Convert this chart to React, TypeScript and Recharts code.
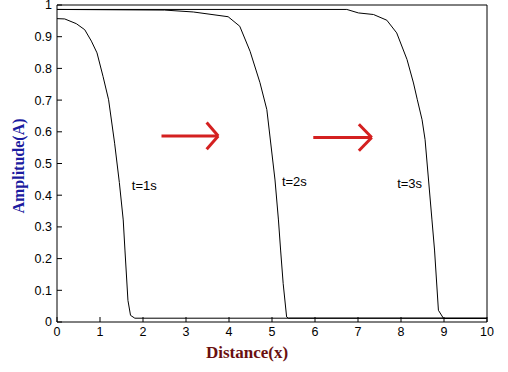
import React from 'react';
import {
  LineChart,
  Line,
  XAxis,
  YAxis,
  ReferenceLine,
  ReferenceDot,
} from 'recharts';

// wave front at t = 1s, 2s, 3s
const front1 = [
  { x: 0, y: 0.957 }, { x: 0.18, y: 0.956 }, { x: 0.45, y: 0.941 },
  { x: 0.645, y: 0.922 }, { x: 0.8, y: 0.886 }, { x: 0.93, y: 0.849 },
  { x: 1.07, y: 0.775 }, { x: 1.2, y: 0.701 }, { x: 1.34, y: 0.564 },
  { x: 1.45, y: 0.44 }, { x: 1.54, y: 0.322 }, { x: 1.58, y: 0.227 },
  { x: 1.65, y: 0.068 }, { x: 1.71, y: 0.021 }, { x: 1.81, y: 0.012 },
  { x: 10, y: 0.012 },
];

const front2 = [
  { x: 0, y: 0.986 }, { x: 2.5, y: 0.984 }, { x: 3.17, y: 0.978 },
  { x: 3.98, y: 0.963 }, { x: 4.25, y: 0.933 }, { x: 4.49, y: 0.854 },
  { x: 4.72, y: 0.755 }, { x: 4.88, y: 0.67 }, { x: 5.07, y: 0.448 },
  { x: 5.15, y: 0.322 }, { x: 5.2, y: 0.227 }, { x: 5.26, y: 0.121 },
  { x: 5.34, y: 0.016 }, { x: 5.38, y: 0.012 }, { x: 10, y: 0.012 },
];

const front3 = [
  { x: 0, y: 0.986 }, { x: 6.74, y: 0.986 }, { x: 7.01, y: 0.975 },
  { x: 7.36, y: 0.97 }, { x: 7.67, y: 0.952 }, { x: 7.9, y: 0.912 },
  { x: 8.14, y: 0.828 }, { x: 8.29, y: 0.754 }, { x: 8.38, y: 0.701 },
  { x: 8.49, y: 0.638 }, { x: 8.56, y: 0.575 }, { x: 8.72, y: 0.322 },
  { x: 8.78, y: 0.227 }, { x: 8.87, y: 0.037 }, { x: 8.99, y: 0.011 },
  { x: 10, y: 0.011 },
];

const xTicks = [0, 1, 2, 3, 4, 5, 6, 7, 8, 9, 10];
const yTicks = [0, 0.1, 0.2, 0.3, 0.4, 0.5, 0.6, 0.7, 0.8, 0.9, 1];

const timeLabels = [
  { text: 't=1s', x: 2.03, y: 0.432 },
  { text: 't=2s', x: 5.52, y: 0.444 },
  { text: 't=3s', x: 8.2, y: 0.438 },
];

// red arrows: [x1, y1, x2, y2]
const arrowStrokes = [
  [2.43, 0.587, 3.75, 0.587],
  [3.48, 0.629, 3.75, 0.587],
  [3.48, 0.545, 3.75, 0.587],
  [5.96, 0.582, 7.32, 0.582],
  [7.02, 0.624, 7.32, 0.582],
  [7.02, 0.54, 7.32, 0.582],
];

const fronts = [front1, front2, front3];

const font = 'Liberation Sans';
const TICK = 5;

// matlab style ticks: pointing into the plot
const BottomTick = (p: any) => (
  <g>
    <line x1={p.x} y1={p.y} x2={p.x} y2={p.y - TICK} stroke="#000" />
    <text x={p.x} y={p.y + 5} dy="0.71em" textAnchor="middle" fill="#000" fontSize={12.5} fontFamily={font}>
      {p.payload.value}
    </text>
  </g>
);

const LeftTick = (p: any) => (
  <g>
    <line x1={p.x} y1={p.y} x2={p.x + TICK} y2={p.y} stroke="#000" />
    <text x={p.x - 5} y={p.y} dy="0.355em" textAnchor="end" fill="#000" fontSize={12.5} fontFamily={font}>
      {p.payload.value}
    </text>
  </g>
);

const TopTick = (p: any) => (
  <line x1={p.x} y1={p.y} x2={p.x} y2={p.y + TICK} stroke="#000" />
);

const RightTick = (p: any) => (
  <line x1={p.x} y1={p.y} x2={p.x - TICK} y2={p.y} stroke="#000" />
);

export default function App() {
  return (
    <div style={{ position: 'absolute', left: 0, top: 0, background: '#fff' }}>
      <LineChart
        width={508}
        height={372}
        margin={{ top: 4, right: 20, bottom: 10, left: 7 }}
      >
        <XAxis
          dataKey="x"
          type="number"
          domain={[0, 10]}
          ticks={xTicks}
          interval={0}
          height={40}
          stroke="#000"
          tickLine={false}
          tickSize={0}
          tickMargin={0}
          tick={BottomTick}
          label={{
            content: () => (
              <text
                x={247}
                y={358}
                textAnchor="middle"
                fill="#6b1010"
                fontSize={17}
                fontWeight="bold"
                fontFamily="Liberation Serif"
              >
                Distance(x)
              </text>
            ),
          }}
        />
        <XAxis
          xAxisId="top"
          orientation="top"
          dataKey="x"
          type="number"
          domain={[0, 10]}
          ticks={xTicks}
          interval={0}
          height={1}
          stroke="#000"
          tickLine={false}
          tickSize={0}
          tickMargin={0}
          tick={TopTick}
        />
        <YAxis
          type="number"
          domain={[0, 1]}
          ticks={yTicks}
          interval={0}
          width={50}
          stroke="#000"
          tickLine={false}
          tickSize={0}
          tickMargin={0}
          tick={LeftTick}
          label={{
            content: () => (
              <text
                x={24}
                y={166}
                transform="rotate(-90 24 166)"
                textAnchor="middle"
                fill="#1c1ca0"
                fontSize={16}
                fontWeight="bold"
                fontFamily="Liberation Serif"
              >
                Amplitude(A)
              </text>
            ),
          }}
        />
        <YAxis
          yAxisId="right"
          orientation="right"
          type="number"
          domain={[0, 1]}
          ticks={yTicks}
          interval={0}
          width={1}
          stroke="#000"
          tickLine={false}
          tickSize={0}
          tickMargin={0}
          tick={RightTick}
        />
        {fronts.map((d, i) => (
          <Line
            key={i}
            data={d}
            dataKey="y"
            type="linear"
            stroke="#000"
            strokeWidth={1}
            dot={false}
            isAnimationActive={false}
          />
        ))}
        {arrowStrokes.map((s, i) => (
          <ReferenceLine
            key={'a' + i}
            segment={[
              { x: s[0], y: s[1] },
              { x: s[2], y: s[3] },
            ]}
            stroke="#d42020"
            strokeWidth={3}
          />
        ))}
        {timeLabels.map((t) => (
          <ReferenceDot
            key={t.text}
            x={t.x}
            y={t.y}
            r={0}
            fill="none"
            stroke="none"
            label={{
              value: t.text,
              position: 'center',
              fill: '#000',
              fontSize: 13,
              fontFamily: font,
            }}
          />
        ))}
      </LineChart>
    </div>
  );
}
